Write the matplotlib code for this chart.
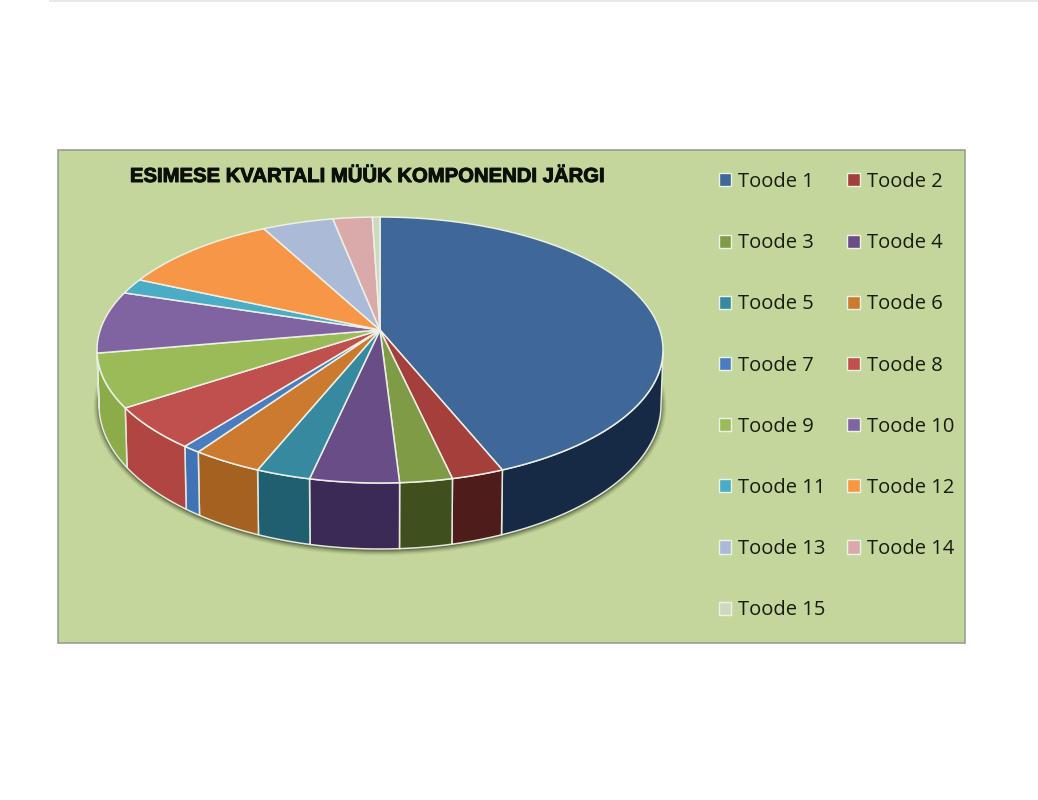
import numpy as np
import matplotlib
matplotlib.use("Agg")
import matplotlib.pyplot as plt
import matplotlib.patheffects as pe
from matplotlib.patches import Polygon, Rectangle, Ellipse, Patch

# ── Data ────────────────────────────────────────────────────────
title = "ESIMESE KVARTALI MÜÜK KOMPONENDI JÄRGI"
products = ["Toode 1", "Toode 2", "Toode 3", "Toode 4", "Toode 5", "Toode 6", "Toode 7", "Toode 8",
            "Toode 9", "Toode 10", "Toode 11", "Toode 12", "Toode 13", "Toode 14", "Toode 15"]
sales = [43.9, 2.6, 2.6, 4.4, 2.7, 3.5, 0.9, 5.2, 6.5, 7.6, 1.9, 10.5, 4.7, 2.6, 0.5]

top_colors = ["#3f6797", "#a43f3c", "#809b45", "#684d86", "#36899f", "#cc7a2f", "#4a7dbf", "#c0504d",
              "#9bbb59", "#8064a2", "#4bacc6", "#f79646", "#aabad7", "#d9aaa9", "#ccd9bf"]
side_colors = ["#172a45", "#4f1c1c", "#3f4f1e", "#3a2a55", "#205f70", "#a5611f", "#3f73b5", "#b04542",
               "#8cac4a", "#5f4a7a", "#38808f", "#b86f33", "#7f8ba1", "#a27f7e", "#98a28e"]

# ── Pie geometry (pixels) ───────────────────────────────────────
CX = 380
TOP_CY, TOP_RX, TOP_RY = 350, 283, 133
BOT_CY, BOT_RX, BOT_RY = 405, 281, 144
TILT = (TOP_CY - 330) / TOP_RY   # the pie's tip sits above the ellipse centre


def disc(theta):
    """Clockwise angle from the top -> point on the unit ellipse, with perspective."""
    x, y = np.sin(theta), np.cos(theta)
    d = 1 + TILT * y
    return x * np.sqrt(1 - TILT ** 2) / d, (y + TILT) / d


def on_top(u, v):
    return np.column_stack([CX + TOP_RX * u, TOP_CY - TOP_RY * v])


def on_bottom(u, v):
    return np.column_stack([CX + BOT_RX * u, BOT_CY - BOT_RY * v])


fig = plt.figure(figsize=(10.38, 8), dpi=100)
ax = fig.add_axes([0, 0, 1, 1])
ax.set_xlim(0, 1038)
ax.set_ylim(800, 0)
ax.axis("off")

# page line at the top and chart area
ax.plot([50, 1038], [0.5, 0.5], color="#e8e8e8", lw=1.5)
ax.add_patch(Rectangle((57.5, 149.5), 907, 493.5, facecolor="#c3d69b", edgecolor="#8f9a8f", lw=1.1))

ax.text(367, 176.5, title, fontsize=14.6, fontweight="bold", family="Liberation Sans",
        color="#0c0f08", ha="center", va="center",
        path_effects=[pe.withStroke(linewidth=0.7, foreground="#0c0f08")])

# soft shadow under the pie
for grow, alpha in zip([11, 9, 7, 5, 3, 1], [0.05, 0.07, 0.1, 0.14, 0.2, 0.28]):
    ax.add_patch(Ellipse((CX, BOT_CY + 1), 2 * BOT_RX + grow, 2 * BOT_RY + grow,
                         facecolor="#1c2410", edgecolor="none", alpha=alpha, zorder=2))

# ── Slices ──────────────────────────────────────────────────────
edges = np.cumsum([0] + sales) / sum(sales) * 2 * np.pi
for i in range(len(sales)):
    theta = np.linspace(edges[i], edges[i + 1], 200)
    u, v = disc(theta)

    # side wall, only the front half shows
    front = v <= 0
    if front.any():
        wall = np.vstack([on_top(u[front], v[front]), on_bottom(u[front], v[front])[::-1]])
        ax.add_patch(Polygon(wall, closed=True, facecolor=side_colors[i], edgecolor="#e4e8dc",
                             lw=1.1, zorder=3))

for i in range(len(sales)):
    theta = np.linspace(edges[i], edges[i + 1], 200)
    u, v = disc(theta)
    tip = on_top(np.array([0.0]), np.array([TILT]))
    ax.add_patch(Polygon(np.vstack([tip, on_top(u, v)]), closed=True, facecolor=top_colors[i],
                         edgecolor="#edf0e6", lw=1.1, zorder=4))

# ── Legend, filled row by row ───────────────────────────────────
handles = [Patch(facecolor=c, edgecolor="#eef2e4", lw=1.0) for c in top_colors]
order = list(range(0, 15, 2)) + list(range(1, 15, 2))
ax.legend([handles[i] for i in order], [products[i] for i in order], ncol=2,
          loc="upper left", bbox_to_anchor=(719 / 1038, 1 - 172 / 800), frameon=False,
          prop={"family": "Open Sans", "size": 14.5}, labelcolor="#161c10",
          handlelength=0.62, handleheight=0.62, handletextpad=0.345,
          labelspacing=2.045, columnspacing=1.05, borderpad=0, borderaxespad=0)

plt.savefig("out.png", dpi=100)
